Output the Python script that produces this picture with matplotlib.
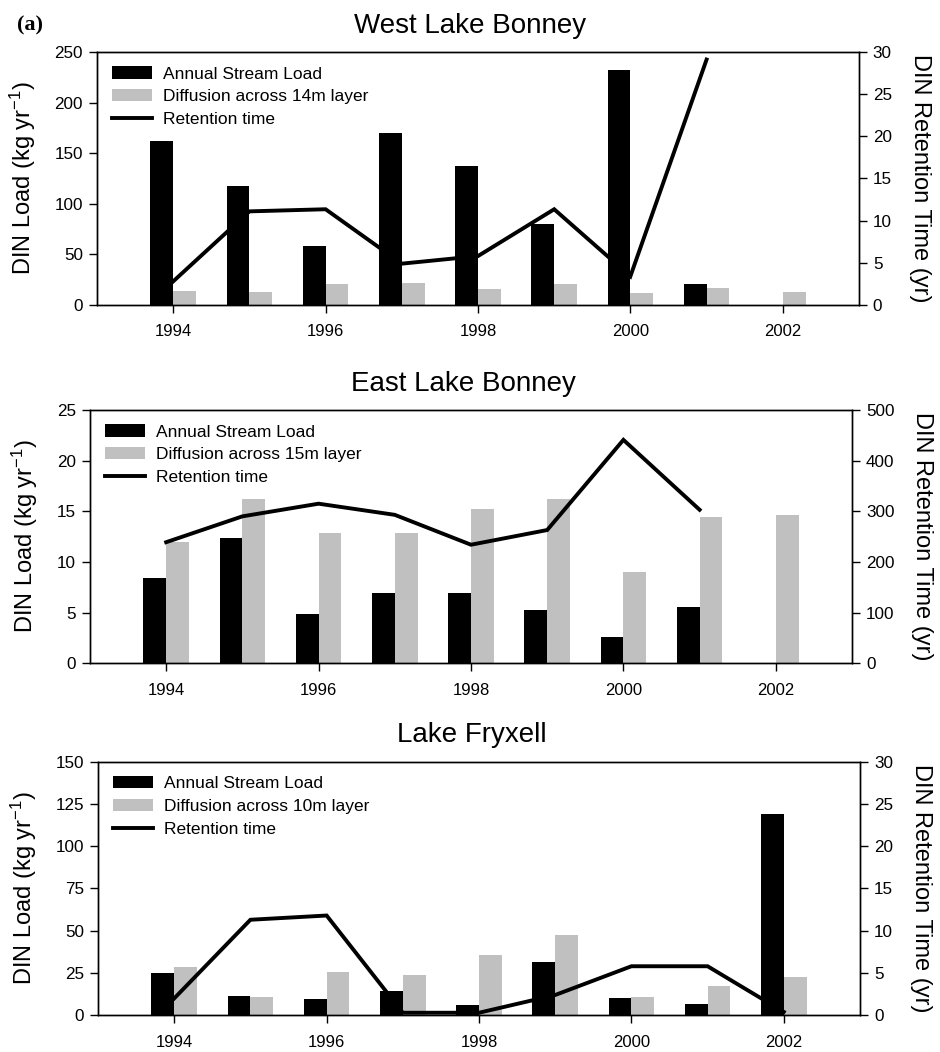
import numpy as np
import matplotlib
matplotlib.use('Agg')
import matplotlib.pyplot as plt
from matplotlib.patches import Patch
from matplotlib.lines import Line2D

plt.rcParams['font.family'] = ['Liberation Sans', 'DejaVu Sans']
plt.rcParams['mathtext.default'] = 'regular'

years = [1994, 1995, 1996, 1997, 1998, 1999, 2000, 2001, 2002]

# West Lake Bonney (no stream load / retention for 2002)
wlb_stream = [162, 118, 58, 170, 137, 80, 232, 21]
wlb_diff = [14, 13, 21, 22, 16, 21, 12, 17, 13]
wlb_ret = [2.8, 11.1, 11.35, 4.9, 5.8, 11.35, 3.4, 29.1]

# East Lake Bonney
elb_stream = [8.4, 12.4, 4.9, 6.9, 6.9, 5.3, 2.6, 5.6]
elb_diff = [12.0, 16.2, 12.9, 12.9, 15.2, 16.2, 9.0, 14.4, 14.6]
elb_ret = [239, 290, 315, 293, 234, 263, 441, 303]

# Lake Fryxell
fry_stream = [25.2, 11.4, 9.5, 14.4, 6.1, 31.7, 10.1, 6.7, 119]
fry_diff = [28.8, 10.6, 25.8, 23.8, 35.7, 47.3, 11.0, 17.2, 22.7]
fry_ret = [2.0, 11.3, 11.8, 0.3, 0.3, 2.4, 5.8, 5.8, 0.4]

bar_w = 0.3
grey = '#c0c0c0'


def panel(rect, title, stream, diff, ret, layer, lticks, rticks):
    ax = fig.add_axes(rect)
    ax2 = ax.twinx()
    x_s = np.array(years[:len(stream)])
    x_d = np.array(years[:len(diff)])
    x_r = np.array(years[:len(ret)])
    ax.bar(x_s - bar_w / 2, stream, width=bar_w, color='black', edgecolor='none')
    ax.bar(x_d + bar_w / 2, diff, width=bar_w, color=grey, edgecolor='none')
    ax2.plot(x_r, ret, color='black', lw=2.8, solid_joinstyle='miter')

    ax.set_xlim(1993, 2003)
    ax.set_xticks([1994, 1996, 1998, 2000, 2002])
    ax.set_ylim(lticks[0], lticks[-1])
    ax.set_yticks(lticks)
    ax2.set_ylim(rticks[0], rticks[-1])
    ax2.set_yticks(rticks)

    for a in (ax, ax2):
        for s in a.spines.values():
            s.set_linewidth(1.0)
        a.tick_params(direction='out', length=6, width=1, labelsize=12.3, pad=4)
    ax.tick_params(axis='x', labelsize=12, pad=8)

    ax.set_ylabel('DIN Load (kg yr$^{-1}$)', fontsize=17, labelpad=12)
    ax2.set_ylabel('DIN Retention Time (yr)', fontsize=17, rotation=270,
                   va='bottom', labelpad=12)
    ax.set_title(title, fontsize=20, x=0.49, pad=14)

    handles = [Patch(facecolor='black', edgecolor='none'),
               Patch(facecolor=grey, edgecolor='none'),
               Line2D([0], [0], color='black', lw=2.8)]
    labels = ['Annual Stream Load',
              'Diffusion across %s layer' % layer,
              'Retention time']
    ax2.legend(handles, labels, loc='upper left', bbox_to_anchor=(0.02, 0.943),
               frameon=False, fontsize=12.5, borderaxespad=0, borderpad=0,
               handlelength=2.3, handleheight=0.7, handletextpad=0.6,
               labelspacing=0.44)
    return ax, ax2


fig = plt.figure(figsize=(9.4, 10.52), dpi=100)

panel([0.1032, 0.7101, 0.8106, 0.2405], 'West Lake Bonney',
      wlb_stream, wlb_diff, wlb_ret, '14m',
      [0, 50, 100, 150, 200, 250], [0, 5, 10, 15, 20, 25, 30])
panel([0.0957, 0.3695, 0.8107, 0.2408], 'East Lake Bonney',
      elb_stream, elb_diff, elb_ret, '15m',
      [0, 5, 10, 15, 20, 25], [0, 100, 200, 300, 400, 500])
panel([0.1043, 0.0349, 0.8106, 0.2411], 'Lake Fryxell',
      fry_stream, fry_diff, fry_ret, '10m',
      [0, 25, 50, 75, 100, 125, 150], [0, 5, 10, 15, 20, 25, 30])

fig.text(0.018, 0.976, '(a)', family='Liberation Serif', weight='bold',
         fontsize=16, va='center')

fig.savefig('out.png', dpi=100)
